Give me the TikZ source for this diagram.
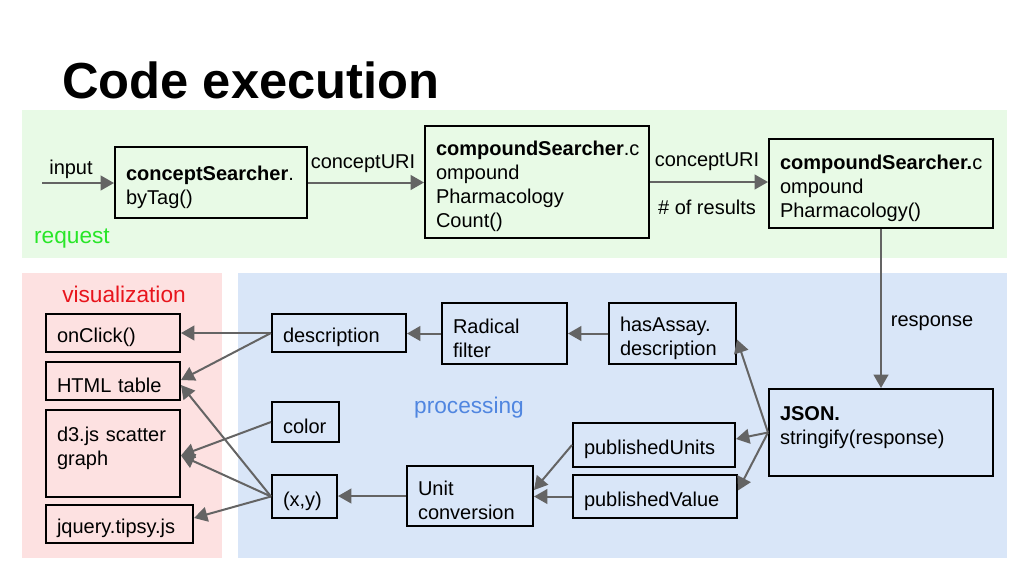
\documentclass[tikz,border=0pt]{standalone}
\usepackage{fontspec}
\setmainfont{Liberation Sans}
\usetikzlibrary{arrows.meta,calc}
\definecolor{reqbg}{RGB}{232,250,230}
\definecolor{visbg}{RGB}{253,225,225}
\definecolor{probg}{RGB}{217,230,248}
\definecolor{arrgray}{RGB}{100,100,100}
\definecolor{reqgreen}{RGB}{40,230,40}
\definecolor{visred}{RGB}{232,20,28}
\definecolor{problue}{RGB}{80,134,224}
\newcommand\mkbox[6]{%
  \pgfmathsetmacro\mkw{(#4-#2-22)*0.75}%
  \pgfmathsetmacro\mkh{(#5-#3)*0.75}%
  \node[box, text width=\mkw pt, minimum height=\mkh pt] (#1) at ({(#2+#4)/2},{(#3+#5)/2}) {\rule{0pt}{17.5pt}#6};}
\begin{document}
\begin{tikzpicture}[x=0.75pt,y=-0.75pt,
  box/.style={draw=black, line width=1.5pt, inner xsep=8.25pt, inner ysep=0pt, align=left,
    font=\fontsize{15}{18}\selectfont},
  arr/.style={draw=arrgray, line width=1.5pt, -{Triangle[length=10pt,width=11pt]}},
  lbl/.style={font=\fontsize{15}{18}\selectfont, inner sep=0pt},
  area/.style={font=\fontsize{17}{20}\selectfont, inner sep=0pt}]
\useasboundingbox[fill=white] (0,0) rectangle (1024,576);
% title
\node[anchor=base west, inner sep=0pt, font=\fontsize{38}{44}\selectfont\bfseries] (title) at (62,98) {Code execution};
% backgrounds
\fill[reqbg] (22,110) rectangle (1007,258);
\fill[visbg] (22,273) rectangle (222,558);
\fill[probg] (238,273) rectangle (1007,558);
% area labels
\node[area, text=reqgreen] (request) at (72,239) {request};
\node[area, text=visred] (visual) at (124,294) {visualization};
\node[area, text=problue] (processing) at (469,408) {processing};
% request boxes
\mkbox{cs}{115}{147}{307}{218}{\textbf{conceptSearcher}.\\byTag()}
\mkbox{cpc}{425}{126}{649}{238}{\textbf{compoundSearcher}.c\\ompound\\Pharmacology\\Count()}
\mkbox{cp}{769}{139}{993}{228}{\textbf{compoundSearcher.}c\\ompound\\Pharmacology()}
% visualization boxes
\mkbox{onc}{46}{314}{180}{352}{onClick()}
\mkbox{html}{46}{362}{180}{400}{HTML table}
\mkbox{d3}{46}{410}{180}{497}{d3.js scatter\\graph\\\mbox{}}
\mkbox{jq}{46}{505}{193}{543}{jquery.tipsy.js}
% processing boxes
\mkbox{desc}{272}{314}{406}{352}{description}
\mkbox{color}{272}{402}{339}{442}{color}
\mkbox{xy}{272}{475}{337}{518}{(x,y)}
\mkbox{rad}{442}{303}{567}{364}{Radical\\filter}
\mkbox{has}{609}{303}{736}{364}{hasAssay.\\description}
\mkbox{pu}{573}{423}{735}{467}{publishedUnits}
\mkbox{pv}{573}{475}{737}{518}{publishedValue}
\mkbox{uc}{407}{466}{533}{526}{Unit\\conversion}
\mkbox{json}{769}{389}{993}{476}{\textbf{JSON.}\\stringify(response)\\\mbox{}}
% request connectors
\coordinate (in0) at (42,183);
\draw[arr] (in0) -- (in0 -| cs.west);
\node[lbl] (inputlbl) at (71,169) {input};
\draw[arr] (cs.east) -- (cs.east -| cpc.west);
\node[lbl] (curi1) at (363,164) {conceptURI};
\draw[arr] (cpc.east) -- (cpc.east -| cp.west);
\node[lbl] (curi2) at (707,162) {conceptURI};
\node[lbl] (nres) at (707,207) {\# of results};
\draw[arr] (cp.south) -- (json.north);
\node[lbl] (resp) at (932,323) {response};
% processing connectors
\draw[arr] (has.west) -- (rad.east);
\draw[arr] (rad.west) -- (rad.west -| desc.east);
\draw[arr] (desc.west) -- (desc.west -| onc.east);
\draw[arr] (desc.west) -- ($(html.east)+(0,-1)$);
\draw[arr] (color.west) -- ($(d3.east)+(0,2)$);
\draw[arr] (xy.west) -- ($(d3.east)+(0,2)$);
\draw[arr] (xy.west) -- ($(html.east)+(0,4)$);
\draw[arr] (xy.west) -- ($(jq.east)+(0,-6)$);
\draw[arr] (uc.west) -- (uc.west -| xy.east);
\draw[arr] (pv.west) -- (pv.west -| uc.east);
\draw[arr] (pu.west) -- ($(uc.east)+(0,-6)$);
\draw[arr] (json.west) -- ($(has.east)+(0,6)$);
\draw[arr] (json.west) -- ($(pu.east)+(0,-6)$);
\draw[arr] (json.west) -- ($(pv.east)+(0,-6)$);
\end{tikzpicture}
\end{document}
